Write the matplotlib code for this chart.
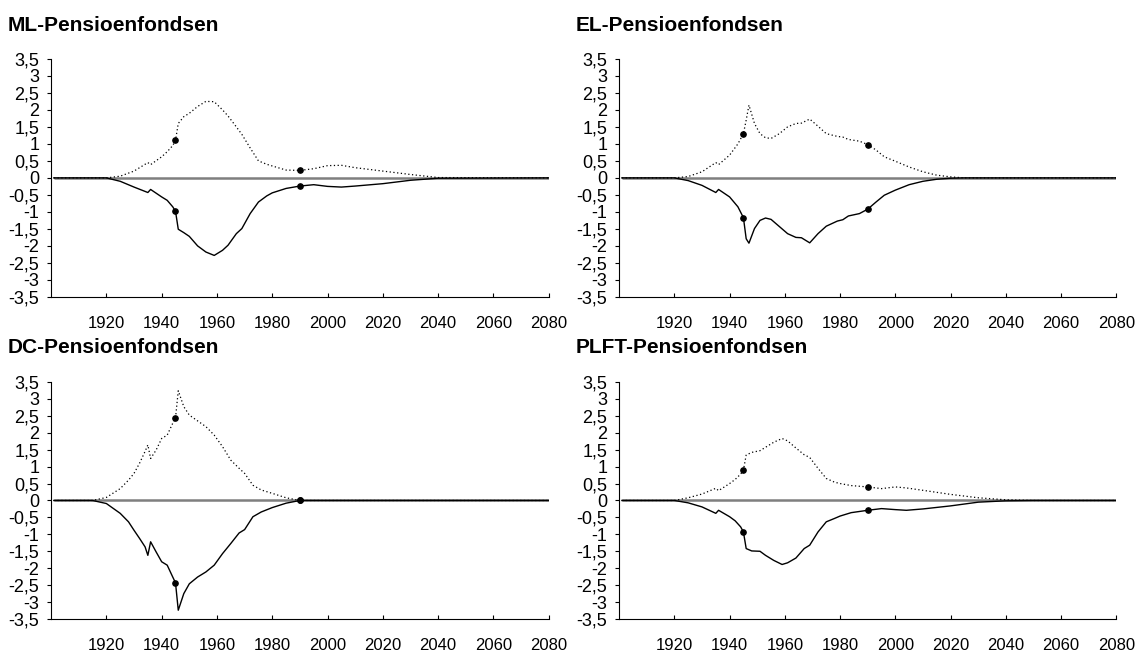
from matplotlib import pyplot as plt
import numpy as np

plt.rcParams['font.family'] = ['Liberation Sans', 'DejaVu Sans']

# ML
ml_years = [1901, 1920, 1925, 1930, 1935, 1936, 1940, 1942, 1944, 1945, 1946, 1948, 1950, 1953,
            1956, 1959, 1962, 1964, 1967, 1969, 1972, 1975, 1978, 1980, 1985, 1990, 1995, 2000,
            2005, 2010, 2020, 2030, 2040, 2080]
ml_pos = [0, 0, 0.05, 0.2, 0.45, 0.39, 0.62, 0.77, 0.95, 1.1, 1.6, 1.8, 1.9, 2.1,
          2.25, 2.24, 2.0, 1.82, 1.5, 1.28, 0.88, 0.5, 0.4, 0.35, 0.23, 0.22, 0.27, 0.36,
          0.37, 0.3, 0.2, 0.1, 0.01, 0]
ml_neg = [0, 0, -0.1, -0.27, -0.43, -0.34, -0.56, -0.66, -0.85, -0.98, -1.51, -1.61, -1.72, -2.0,
          -2.18, -2.28, -2.13, -1.98, -1.64, -1.49, -1.05, -0.71, -0.53, -0.44, -0.31, -0.24, -0.2, -0.25,
          -0.27, -0.24, -0.17, -0.07, -0.01, 0]

# EL
el_years = [1901, 1920, 1925, 1930, 1935, 1936, 1940, 1943, 1945, 1946, 1947, 1949, 1951, 1953,
            1955, 1958, 1961, 1964, 1966, 1969, 1972, 1975, 1979, 1981, 1983, 1987, 1990, 1993,
            1996, 2000, 2005, 2010, 2015, 2020, 2025, 2080]
el_pos = [0, 0, 0.04, 0.18, 0.45, 0.39, 0.67, 1.0, 1.3, 1.7, 2.14, 1.6, 1.3, 1.18,
          1.16, 1.3, 1.5, 1.6, 1.61, 1.73, 1.52, 1.3, 1.22, 1.2, 1.13, 1.08, 0.98, 0.82,
          0.62, 0.49, 0.32, 0.18, 0.08, 0.03, 0, 0]
el_neg = [0, 0, -0.08, -0.22, -0.43, -0.34, -0.56, -0.85, -1.17, -1.79, -1.92, -1.49, -1.25, -1.18,
          -1.22, -1.43, -1.64, -1.75, -1.76, -1.91, -1.64, -1.42, -1.27, -1.23, -1.12, -1.05, -0.92, -0.71,
          -0.51, -0.36, -0.2, -0.1, -0.04, -0.01, 0, 0]

# DC
dc_years = [1901, 1915, 1920, 1925, 1928, 1930, 1932, 1934, 1935, 1936, 1938, 1940, 1942, 1944,
            1945, 1946, 1948, 1950, 1953, 1956, 1959, 1962, 1965, 1968, 1970, 1973, 1976, 1980,
            1985, 1990, 2080]
dc_pos = [0, 0, 0.09, 0.35, 0.6, 0.8, 1.1, 1.45, 1.64, 1.24, 1.49, 1.83, 1.93, 2.28,
          2.43, 3.24, 2.77, 2.52, 2.35, 2.18, 1.93, 1.59, 1.19, 0.95, 0.8, 0.45, 0.31, 0.21,
          0.08, 0, 0]
dc_neg = [0, 0, -0.09, -0.38, -0.63, -0.88, -1.12, -1.37, -1.62, -1.22, -1.52, -1.81, -1.91, -2.26,
          -2.43, -3.24, -2.75, -2.46, -2.26, -2.11, -1.91, -1.57, -1.27, -0.96, -0.86, -0.48, -0.34, -0.21,
          -0.08, 0, 0]

# PLFT
plft_years = [1901, 1920, 1925, 1930, 1935, 1936, 1940, 1942, 1944, 1945, 1946, 1948, 1951, 1953,
              1956, 1959, 1961, 1964, 1967, 1969, 1972, 1975, 1978, 1980, 1984, 1990, 1995, 2000,
              2004, 2010, 2020, 2030, 2040, 2050, 2080]
plft_pos = [0, 0, 0.08, 0.19, 0.36, 0.29, 0.5, 0.62, 0.78, 0.9, 1.34, 1.42, 1.47, 1.57,
            1.72, 1.83, 1.76, 1.55, 1.35, 1.27, 0.95, 0.65, 0.54, 0.5, 0.44, 0.4, 0.35, 0.4,
            0.37, 0.3, 0.18, 0.08, 0.02, 0, 0]
plft_neg = [0, 0, -0.07, -0.19, -0.38, -0.29, -0.48, -0.6, -0.78, -0.93, -1.42, -1.49, -1.5, -1.62,
            -1.77, -1.89, -1.84, -1.7, -1.42, -1.32, -0.93, -0.63, -0.53, -0.46, -0.36, -0.29, -0.24, -0.27,
            -0.29, -0.25, -0.16, -0.05, -0.01, 0, 0]

titles = ['ML-Pensioenfondsen', 'EL-Pensioenfondsen', 'DC-Pensioenfondsen', 'PLFT-Pensioenfondsen']
panels = [(ml_years, ml_pos, ml_neg), (el_years, el_pos, el_neg),
          (dc_years, dc_pos, dc_neg), (plft_years, plft_pos, plft_neg)]

mark_years = [1945, 1990]
X_pos = np.arange(1920, 2081, 20)
X_Label = [str(x) for x in X_pos]
Y_pos = np.arange(-3.5, 3.51, 0.5)
Y_Label = [('%g' % y).replace('.', ',') for y in Y_pos]

# axes boxes in figure fractions: left, bottom, width, height
boxes = [(0.045, 0.546, 0.4385, 0.364), (0.5455, 0.546, 0.438, 0.364),
         (0.045, 0.0535, 0.4385, 0.3625), (0.5455, 0.0535, 0.438, 0.3625)]
title_xy = [(0.007, 0.953), (0.507, 0.953), (0.007, 0.461), (0.507, 0.461)]

fig = plt.figure(figsize=(11.35, 6.54), dpi=100)

for k in range(4):
    years, pos, neg = panels[k]
    marks = [years.index(y) for y in mark_years]
    ax = fig.add_axes(boxes[k])
    ax.hlines(0, years[0], years[-1], color='#7f7f7f', lw=1.8, zorder=1)
    ax.plot(years, pos, color='black', lw=0.9, linestyle=(0, (1, 2)),
            marker='o', markersize=3.8, markevery=marks, zorder=3)
    ax.plot(years, neg, color='black', lw=1.0,
            marker='o', markersize=3.8, markevery=marks, zorder=3)
    ax.set_xlim(1900, 2080)
    ax.set_ylim(-3.5, 3.5)
    ax.set_xticks(X_pos)
    ax.set_xticklabels(X_Label)
    ax.set_yticks(Y_pos)
    ax.set_yticklabels(Y_Label)
    ax.tick_params(axis='x', direction='in', length=3, pad=14, labelsize=12, width=0.8)
    ax.tick_params(axis='y', direction='out', length=3, pad=5.5, labelsize=13, width=0.8)
    for s in ['top', 'right']:
        ax.spines[s].set_visible(False)
    for s in ['left', 'bottom']:
        ax.spines[s].set_linewidth(0.8)
    fig.text(title_xy[k][0], title_xy[k][1], titles[k], fontsize=15, fontweight='bold',
             va='baseline', ha='left')

plt.savefig('out.png', dpi=100)
